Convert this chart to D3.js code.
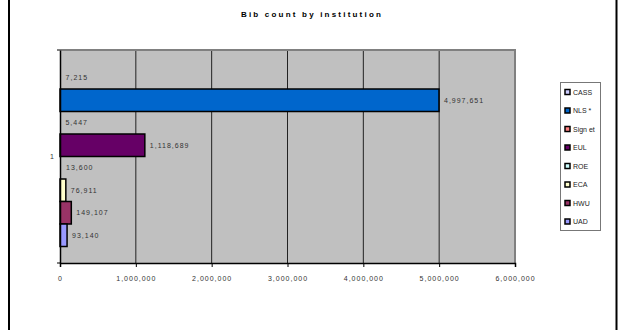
<!DOCTYPE html>
<html>
<head>
<meta charset="utf-8">
<script src="https://cdn.jsdelivr.net/npm/d3@7"></script>
<style>
  body { margin: 0; background: #fff; }
  text { font-family: "Liberation Sans", Arial, sans-serif; }
</style>
</head>
<body>
<svg width="618" height="330"></svg>
<script>
// series from top to bottom, as drawn
var names = ["CASS", "NLS *", "Sign et", "EUL", "ROE", "ECA", "HWU", "UAD"];
var counts = [7215, 4997651, 5447, 1118689, 13600, 76911, 149107, 93140];
var colors = ["#CCCCFF", "#0066CC", "#FF8080", "#660066", "#CCFFFF", "#FFFFCC", "#993366", "#9999FF"];
var categories = ["1"];
var xTicks = [0, 1000000, 2000000, 3000000, 4000000, 5000000, 6000000];

var svg = d3.select("svg");
var plot = {left: 60, right: 515, top: 50, bottom: 263};

// outer frame (left & right edges visible)
svg.append("line").attr("x1", 9).attr("x2", 9).attr("y1", 0).attr("y2", 330)
    .attr("stroke", "#000").attr("stroke-width", 2);
svg.append("line").attr("x1", 616.5).attr("x2", 616.5).attr("y1", 0).attr("y2", 330)
    .attr("stroke", "#000").attr("stroke-width", 2);

// title
svg.append("text").attr("x", 312).attr("y", 17)
    .attr("text-anchor", "middle")
    .style("font-size", "8px").style("font-weight", "bold")
    .style("letter-spacing", "2.2px")
    .text("Bib count by institution");

var x = d3.scaleLinear().domain([0, 6000000]).range([plot.left, plot.right]);
var yCat = d3.scaleBand().domain(categories).range([plot.top, plot.bottom]);
// bars take 180 of 213 px (gap width ~150%)
var inner = 180;
var y = d3.scaleBand().domain(names)
    .range([yCat("1") + (yCat.bandwidth() - inner) / 2, yCat("1") + (yCat.bandwidth() + inner) / 2]);

svg.append("rect").attr("x", plot.left).attr("y", plot.top)
    .attr("width", plot.right - plot.left).attr("height", plot.bottom - plot.top)
    .attr("fill", "#C0C0C0");

// gridlines
svg.append("g").selectAll("line").data(xTicks.slice(1, -1)).enter().append("line")
    .attr("x1", function(d) { return x(d); }).attr("x2", function(d) { return x(d); })
    .attr("y1", plot.top).attr("y2", plot.bottom)
    .attr("stroke", "#222").attr("stroke-width", 1);

// plot border top/right
svg.append("path")
    .attr("d", "M" + plot.left + "," + plot.top + "H" + plot.right + "V" + plot.bottom)
    .attr("fill", "none").attr("stroke", "#808080").attr("stroke-width", 2);

// bars
svg.append("g").selectAll("rect").data(names).enter().append("rect")
    .attr("x", x(0))
    .attr("y", function(d) { return y(d); })
    .attr("width", function(d, i) { return Math.max(0, x(counts[i]) - x(0)); })
    .attr("height", y.bandwidth())
    .attr("fill", function(d, i) { return colors[i]; })
    .attr("stroke", "#000").attr("stroke-width", 1.5)
    .style("display", function(d, i) { return x(counts[i]) - x(0) < 1.5 ? "none" : null; });

// value labels
svg.append("g").selectAll("text").data(names).enter().append("text")
    .attr("x", function(d, i) { return x(counts[i]) + 5; })
    .attr("y", function(d) { return y(d) + y.bandwidth() / 2 + 2.5; })
    .style("font-size", "7px").style("letter-spacing", "1px").attr("fill", "#333")
    .text(function(d, i) { return d3.format(",")(counts[i]); });

// x axis
var xAxis = d3.axisBottom(x).tickValues(xTicks).tickSize(4).tickPadding(9)
    .tickFormat(d3.format(","));
var gx = svg.append("g").attr("transform", "translate(0," + plot.bottom + ")").call(xAxis);
gx.select(".domain").attr("stroke", "#000").attr("stroke-width", 1.5);
gx.selectAll(".tick line").attr("stroke", "#000");
gx.selectAll("text").style("font-size", "7px").style("letter-spacing", "1px")
    .attr("fill", "#333").attr("font-family", null);

// y axis
var yAxis = d3.axisLeft(yCat).tickSize(0).tickPadding(6);
var gy = svg.append("g").attr("transform", "translate(" + plot.left + ",0)").call(yAxis);
gy.select(".domain").attr("stroke", "#000").attr("stroke-width", 1.5);
gy.selectAll("text").style("font-size", "7px").attr("fill", "#333").attr("font-family", null);
svg.append("g").selectAll("line").data([plot.top, plot.bottom]).enter().append("line")
    .attr("x1", plot.left - 3).attr("x2", plot.left)
    .attr("y1", function(d) { return d; }).attr("y2", function(d) { return d; })
    .attr("stroke", "#000");

// legend
var lg = svg.append("g");
lg.append("rect").attr("x", 560.5).attr("y", 82.5).attr("width", 40).attr("height", 148)
    .attr("fill", "#fff").attr("stroke", "#777").attr("stroke-width", 1);
var items = lg.selectAll("g.item").data(names).enter().append("g")
    .attr("transform", function(d, i) { return "translate(565," + (92 + i * 18.5) + ")"; });
items.append("rect").attr("x", 0).attr("y", -2.5).attr("width", 5).attr("height", 5)
    .attr("fill", function(d, i) { return colors[i]; })
    .attr("stroke", "#000").attr("stroke-width", 1.5);
items.append("text").attr("x", 8).attr("y", 2.5)
    .style("font-size", "7px").attr("fill", "#222")
    .text(function(d) { return d; });
</script>
</body>
</html>
